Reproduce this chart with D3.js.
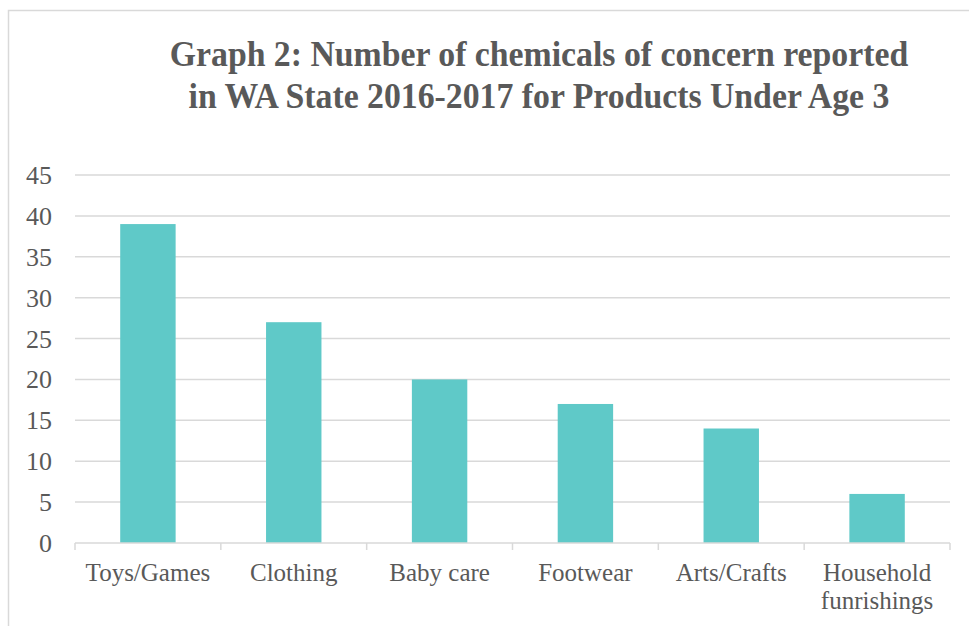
<!DOCTYPE html>
<html lang="en">
<head>
<meta charset="utf-8">
<title>Graph 2</title>
<script src="https://cdn.jsdelivr.net/npm/d3@7"></script>
<style>
body { margin: 0; background: #fff; }
svg text { font-family: "Liberation Serif", "DejaVu Serif", serif; fill: #595959; }
</style>
</head>
<body>
<script>
// chart data
var categories = ["Toys/Games", "Clothing", "Baby care", "Footwear", "Arts/Crafts", "Household funrishings"];
var counts = [39, 27, 20, 17, 14, 6];
var yTicks = [0, 5, 10, 15, 20, 25, 30, 35, 40, 45];
var titleLines = ["Graph 2: Number of chemicals of concern reported",
                  "in WA State 2016-2017 for Products Under Age 3"];

var W = 969, H = 626;
var plotLeft = 75, plotRight = 950, plotTop = 175, plotBottom = 543;

var svg = d3.select("body").append("svg")
  .attr("width", W).attr("height", H);

// outer chart border (runs off the right and bottom edge)
svg.append("rect")
  .attr("x", 8.5).attr("y", 10.5)
  .attr("width", 1000).attr("height", 700)
  .attr("fill", "none").attr("stroke", "#d9d9d9").attr("stroke-width", 1.5);

var x = d3.scaleBand().domain(categories).range([plotLeft, plotRight]).paddingInner(0.62).paddingOuter(0.31);
var xb = d3.scaleBand().domain(categories).range([plotLeft, plotRight]);
var y = d3.scaleLinear().domain([0, 45]).range([plotBottom, plotTop]);

// gridlines
svg.append("g").selectAll("line")
  .data(yTicks.filter(function(d) { return d > 0; }))
  .enter().append("line")
  .attr("x1", plotLeft).attr("x2", plotRight)
  .attr("y1", function(d) { return y(d); })
  .attr("y2", function(d) { return y(d); })
  .attr("stroke", "#d9d9d9").attr("stroke-width", 1.5);

// y labels
svg.append("g").selectAll("text")
  .data(yTicks)
  .enter().append("text")
  .attr("x", 52)
  .attr("y", function(d) { return y(d) + 9; })
  .attr("text-anchor", "end")
  .style("font-size", "26px")
  .text(String);

// bars
svg.append("g").selectAll("rect")
  .data(counts)
  .enter().append("rect")
  .attr("x", function(d, i) { return x(categories[i]); })
  .attr("width", x.bandwidth())
  .attr("y", function(d) { return y(d); })
  .attr("height", function(d) { return y(0) - y(d); })
  .attr("fill", "#5fc9c8");

// x axis line and category separators
var xAxis = svg.append("g");
xAxis.append("line")
  .attr("x1", plotLeft).attr("x2", plotRight)
  .attr("y1", plotBottom).attr("y2", plotBottom)
  .attr("stroke", "#d9d9d9").attr("stroke-width", 1.5);
var seps = categories.map(function(c) { return xb(c); }).concat([plotRight]);
xAxis.selectAll("line.sep")
  .data(seps)
  .enter().append("line").attr("class", "sep")
  .attr("x1", function(d) { return d; }).attr("x2", function(d) { return d; })
  .attr("y1", plotBottom).attr("y2", plotBottom + 7)
  .attr("stroke", "#d9d9d9").attr("stroke-width", 1.5);

// category labels, wrapped at the space for the long one
var lab = svg.append("g").selectAll("text")
  .data(categories)
  .enter().append("text")
  .attr("text-anchor", "middle")
  .style("font-size", "25px")
  .attr("transform", function(d) { return "translate(" + (xb(d) + xb.bandwidth() / 2) + ",581)"; });
lab.each(function(d) {
  var parts = d === "Household funrishings" ? ["Household", "funrishings"] : [d];
  var t = d3.select(this);
  parts.forEach(function(p, i) {
    t.append("tspan").attr("x", 0).attr("dy", i === 0 ? 0 : 27.5).text(p);
  });
});

// title, slightly condensed
svg.append("g").selectAll("text")
  .data(titleLines)
  .enter().append("text")
  .attr("text-anchor", "middle")
  .style("font-size", "35px")
  .style("font-weight", "bold")
  .attr("transform", function(d, i) { return "translate(539," + (66 + i * 42) + ") scale(0.965,1)"; })
  .text(String);
</script>
</body>
</html>
